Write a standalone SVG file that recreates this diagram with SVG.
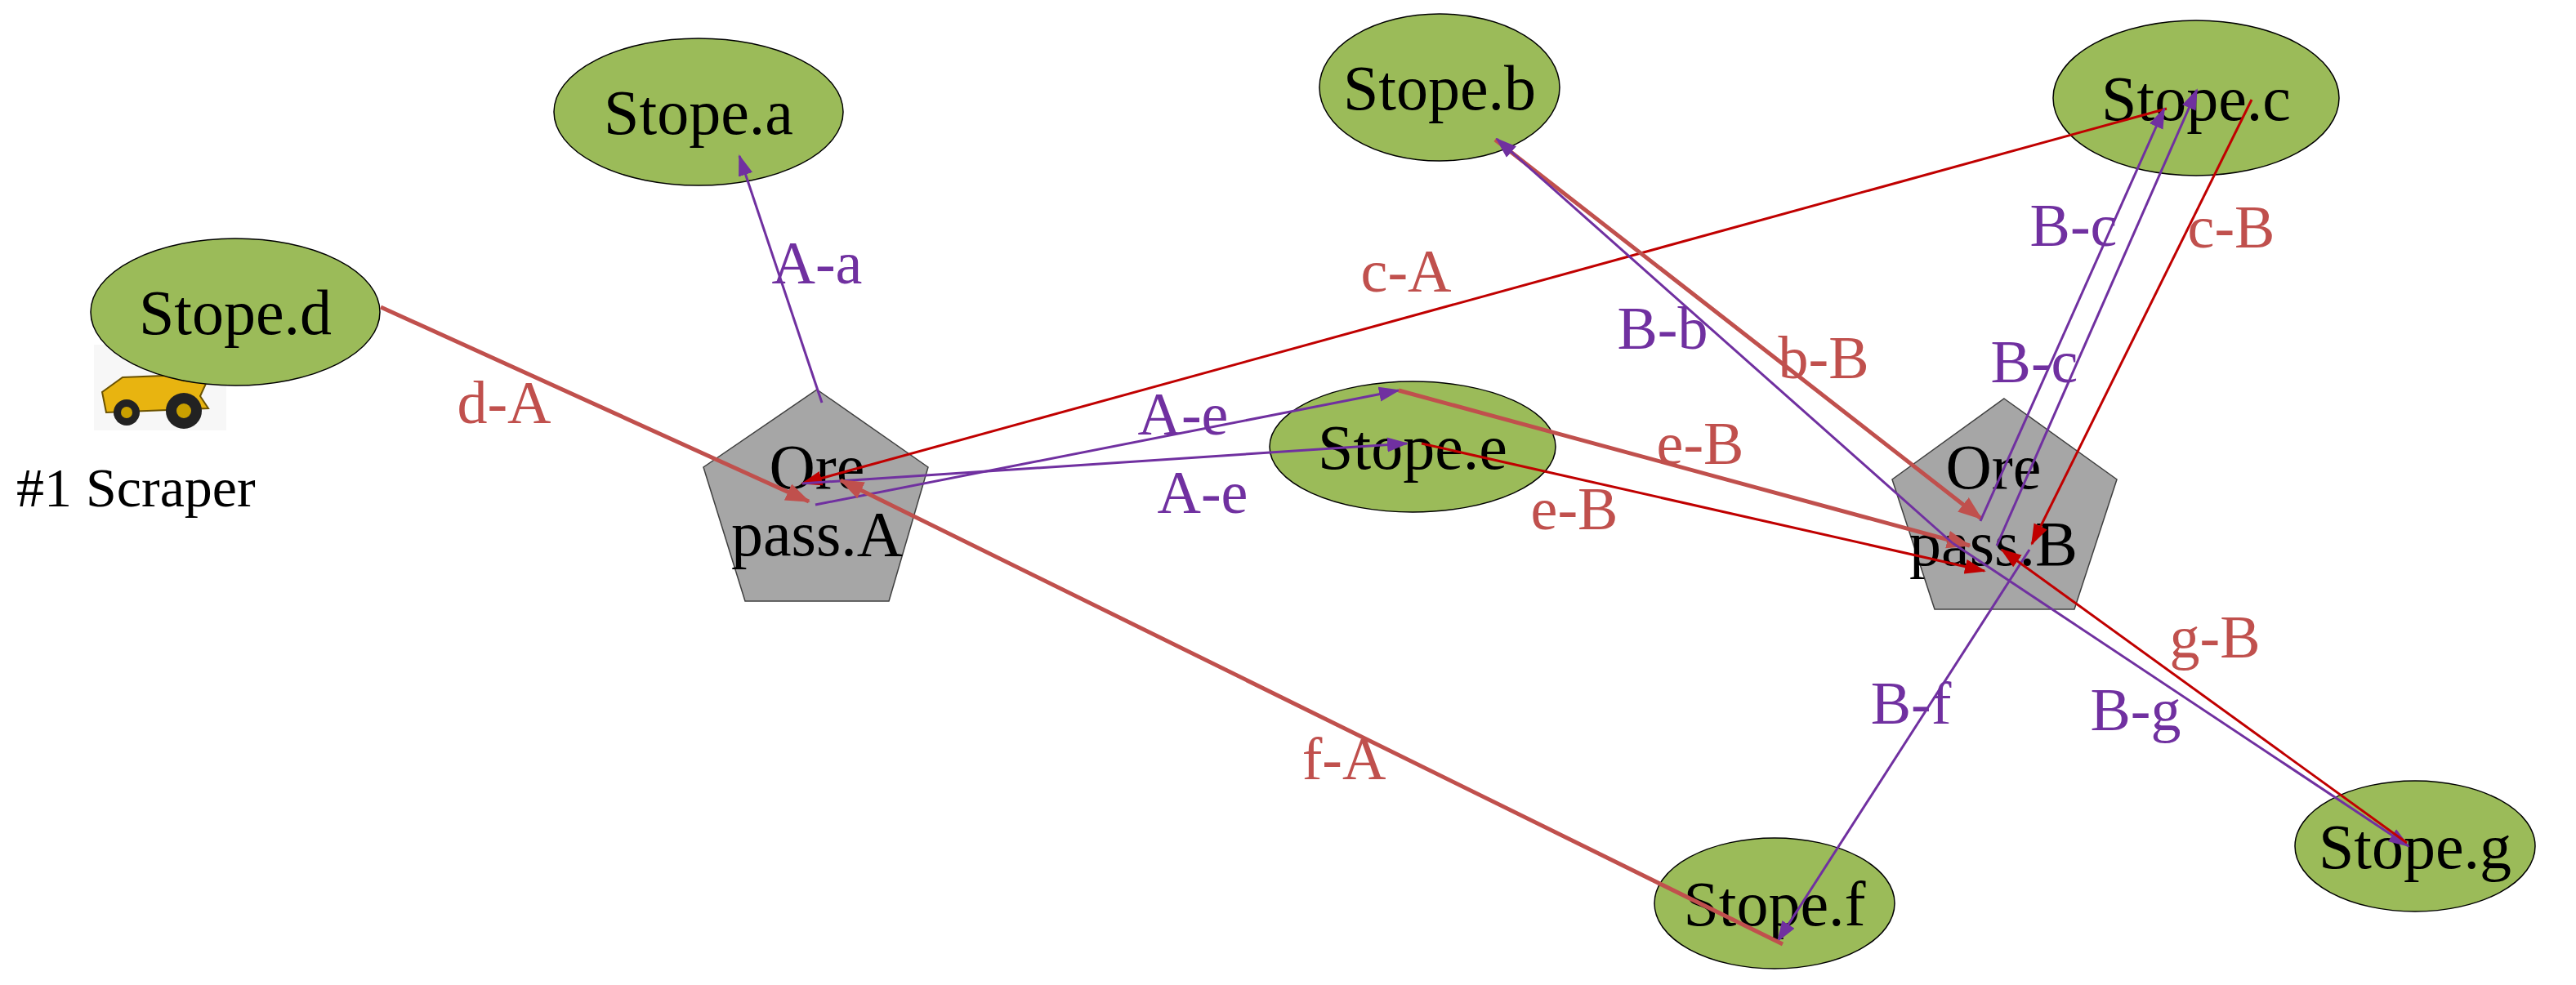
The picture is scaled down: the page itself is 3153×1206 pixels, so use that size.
<svg xmlns="http://www.w3.org/2000/svg" width="3153" height="1206" viewBox="0 0 3153 1206">
<style>
.st{fill:#9BBB59;stroke:#000;stroke-width:1.5}
.op{fill:#A6A6A6;stroke:#404040;stroke-width:1.5}
.t{font-family:"Liberation Serif",serif;font-size:78px;fill:#000;text-anchor:middle}
.lp{font-family:"Liberation Serif",serif;font-size:74px;fill:#7030A0;text-anchor:middle}
.lr{font-family:"Liberation Serif",serif;font-size:74px;fill:#C0504D;text-anchor:middle}
.p{stroke:#7030A0;stroke-width:3;fill:none;marker-end:url(#mp)}
.s{stroke:#C0504D;stroke-width:5;fill:none;marker-end:url(#ms)}
.r{stroke:#C00000;stroke-width:3;fill:none;marker-end:url(#mr)}
</style>
<defs>
<marker id="mp" markerUnits="userSpaceOnUse" markerWidth="26" markerHeight="20" refX="24" refY="10" orient="auto"><path d="M0,1 L26,10 L0,19 z" fill="#7030A0"/></marker>
<marker id="ms" markerUnits="userSpaceOnUse" markerWidth="30" markerHeight="24" refX="28" refY="12" orient="auto"><path d="M0,1 L30,12 L0,23 z" fill="#C0504D"/></marker>
<marker id="mr" markerUnits="userSpaceOnUse" markerWidth="26" markerHeight="20" refX="24" refY="10" orient="auto"><path d="M0,1 L26,10 L0,19 z" fill="#C00000"/></marker>
</defs>
<rect width="3153" height="1206" fill="#fff"/>
<g id="scraper">
<rect x="115" y="422" width="162" height="105" fill="#f7f7f7"/>
<path d="M125,480 L150,462 L200,460 L205,432 L222,432 L225,465 L250,440 L262,448 L245,485 L255,500 L130,505 Z" fill="#E8B410" stroke="#6b5200" stroke-width="2"/>
<circle cx="155" cy="505" r="16" fill="#222"/><circle cx="155" cy="505" r="7" fill="#c9a000"/>
<circle cx="225" cy="503" r="22" fill="#222"/><circle cx="225" cy="503" r="9" fill="#c9a000"/>
<text x="20" y="620" style="font-family:'Liberation Serif',serif;font-size:68px;fill:#000">#1 Scraper</text>
</g>
<g id="stope-a"><ellipse class="st" cx="855" cy="137" rx="177" ry="90"/><text class="t" x="855" y="164">Stope.a</text></g>
<g id="stope-b"><ellipse class="st" cx="1762" cy="107" rx="147" ry="90"/><text class="t" x="1762" y="134">Stope.b</text></g>
<g id="stope-c"><ellipse class="st" cx="2688" cy="120" rx="175" ry="95"/><text class="t" x="2688" y="147">Stope.c</text></g>
<g id="stope-d"><ellipse class="st" cx="288" cy="382" rx="177" ry="90"/><text class="t" x="288" y="409">Stope.d</text></g>
<g id="stope-e"><ellipse class="st" cx="1729" cy="547" rx="175" ry="80"/><text class="t" x="1729" y="574">Stope.e</text></g>
<g id="stope-f"><ellipse class="st" cx="2172" cy="1106" rx="147" ry="80"/><text class="t" x="2172" y="1133">Stope.f</text></g>
<g id="stope-g"><ellipse class="st" cx="2956" cy="1036" rx="147" ry="80"/><text class="t" x="2956" y="1063">Stope.g</text></g>
<g id="orepass-a"><polygon class="op" points="1000,477 1136,572 1088,736 912,736 861,572"/><text class="t" x="1000" y="598">Ore</text><text class="t" x="1000" y="680">pass.A</text></g>
<g id="orepass-b"><polygon class="op" points="2453,488 2591,587 2539,746 2368,746 2316,587"/><text class="t" x="2440" y="598">Ore</text><text class="t" x="2440" y="692">pass.B</text></g>
<g id="connectors">
<line class="p" x1="1006" y1="493" x2="905" y2="191"/>
<line class="s" x1="466" y1="376" x2="990" y2="614"/>
<line class="r" x1="2652" y1="133" x2="982" y2="592"/>
<line class="p" x1="998" y1="618" x2="1712" y2="478"/>
<line class="p" x1="982" y1="592" x2="1722" y2="543"/>
<line class="s" x1="1712" y1="478" x2="2411" y2="668"/>
<line class="r" x1="1740" y1="543" x2="2429" y2="699"/>
<line class="s" x1="1830" y1="171" x2="2425" y2="635"/>
<line class="p" x1="2390" y1="665" x2="1832" y2="170"/>
<line class="p" x1="2390" y1="665" x2="2948" y2="1036"/>
<line class="p" x1="2424" y1="638" x2="2649" y2="133"/>
<line class="p" x1="2444" y1="668" x2="2689" y2="110"/>
<line class="r" x1="2756" y1="122" x2="2487" y2="666"/>
<line class="p" x1="2484" y1="673" x2="2176" y2="1152"/>
<line class="r" x1="2946" y1="1032" x2="2450" y2="673"/>
<line class="s" x1="2182" y1="1156" x2="1029" y2="588"/>
<text class="lp" x="1000" y="347">A-a</text>
<text class="lr" x="617" y="518">d-A</text>
<text class="lr" x="1721" y="357">c-A</text>
<text class="lp" x="1448" y="532">A-e</text>
<text class="lp" x="1472" y="628">A-e</text>
<text class="lr" x="2081" y="568">e-B</text>
<text class="lr" x="1927" y="648">e-B</text>
<text class="lr" x="2232" y="463">b-B</text>
<text class="lp" x="2035" y="427">B-b</text>
<text class="lp" x="2538" y="301">B-c</text>
<text class="lp" x="2490" y="468">B-c</text>
<text class="lr" x="2731" y="303">c-B</text>
<text class="lp" x="2339" y="886">B-f</text>
<text class="lp" x="2614" y="894">B-g</text>
<text class="lr" x="2711" y="805">g-B</text>
<text class="lr" x="1645" y="954">f-A</text>
</g>
</svg>
